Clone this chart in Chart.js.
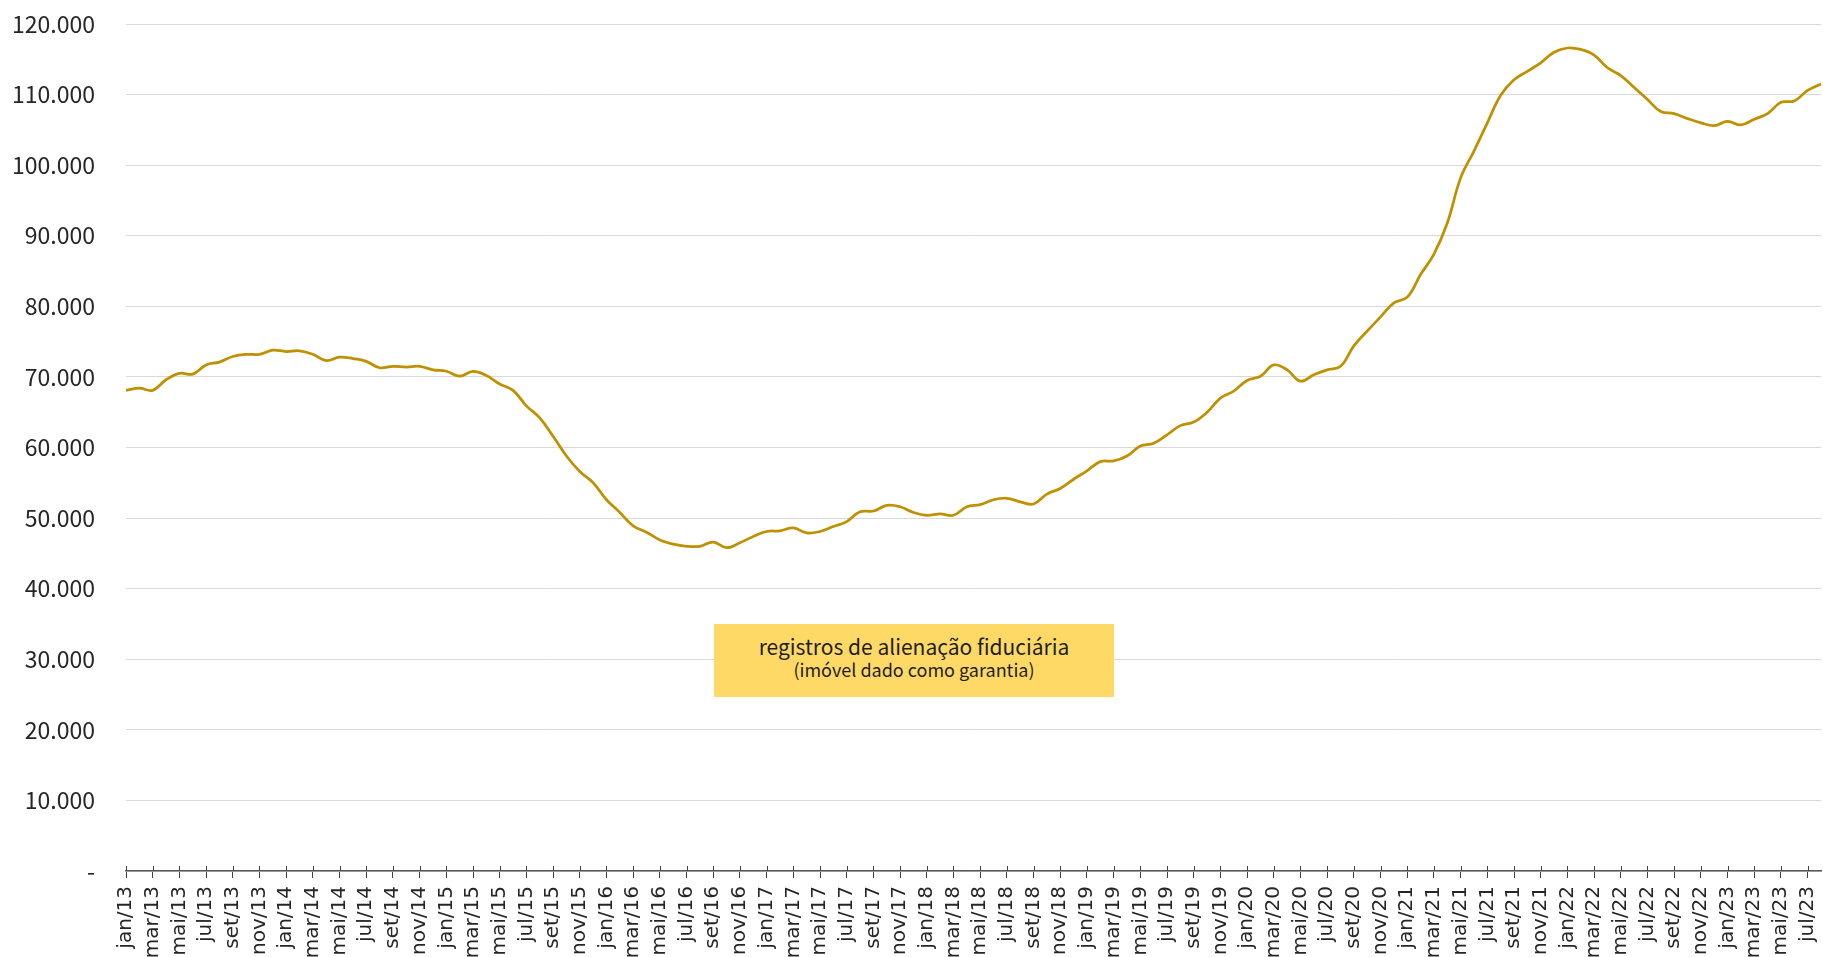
<!DOCTYPE html>
<html>
<head>
<meta charset="utf-8">
<script src="https://cdn.jsdelivr.net/npm/chart.js@4.4.0/dist/chart.umd.min.js"></script>
<style>
  body { margin: 0; background: #fff; }
  #wrap { position: relative; width: 1823px; height: 957px; }
  #note {
    position: absolute; left: 714px; top: 624px; width: 400px; height: 73px;
    background: #FFD966; color: #1f1f1f; text-align: center;
    font-family: "Noto Sans CJK JP", sans-serif; box-sizing: border-box; padding-top: 10px;
  }
  #note .l1 { font-size: 21px; line-height: 24px; }
  #note .l2 { font-size: 18px; line-height: 21px; margin-top: 1px; }
</style>
</head>
<body>
<div id="wrap">
  <canvas id="chart" width="1823" height="957"></canvas>
  <div id="note">
    <div class="l1">registros de alienação fiduciária</div>
    <div class="l2">(imóvel dado como garantia)</div>
  </div>
</div>
<script>
// monthly categories, jan/13 .. ago/23
const labels = [
  'jan/13','fev/13','mar/13','abr/13','mai/13','jun/13','jul/13','ago/13','set/13','out/13','nov/13','dez/13',
  'jan/14','fev/14','mar/14','abr/14','mai/14','jun/14','jul/14','ago/14','set/14','out/14','nov/14','dez/14',
  'jan/15','fev/15','mar/15','abr/15','mai/15','jun/15','jul/15','ago/15','set/15','out/15','nov/15','dez/15',
  'jan/16','fev/16','mar/16','abr/16','mai/16','jun/16','jul/16','ago/16','set/16','out/16','nov/16','dez/16',
  'jan/17','fev/17','mar/17','abr/17','mai/17','jun/17','jul/17','ago/17','set/17','out/17','nov/17','dez/17',
  'jan/18','fev/18','mar/18','abr/18','mai/18','jun/18','jul/18','ago/18','set/18','out/18','nov/18','dez/18',
  'jan/19','fev/19','mar/19','abr/19','mai/19','jun/19','jul/19','ago/19','set/19','out/19','nov/19','dez/19',
  'jan/20','fev/20','mar/20','abr/20','mai/20','jun/20','jul/20','ago/20','set/20','out/20','nov/20','dez/20',
  'jan/21','fev/21','mar/21','abr/21','mai/21','jun/21','jul/21','ago/21','set/21','out/21','nov/21','dez/21',
  'jan/22','fev/22','mar/22','abr/22','mai/22','jun/22','jul/22','ago/22','set/22','out/22','nov/22','dez/22',
  'jan/23','fev/23','mar/23','abr/23','mai/23','jun/23','jul/23','ago/23'
];

// registros de alienação fiduciária
const registros = [
  68100, 68400, 68100, 69600, 70500, 70400, 71700, 72100, 72900, 73200, 73200, 73800,
  73600, 73700, 73200, 72300, 72800, 72600, 72200, 71300, 71500, 71400, 71500, 71000,
  70800, 70100, 70800, 70200, 69000, 68100, 65900, 64200, 61600, 58800, 56600, 55000,
  52600, 50800, 48900, 48000, 46900, 46300, 46000, 46000, 46600, 45800, 46500, 47400,
  48100, 48200, 48600, 47900, 48100, 48800, 49500, 50900, 51000, 51800, 51600, 50800,
  50400, 50600, 50400, 51600, 51900, 52600, 52800, 52300, 52000, 53400, 54200, 55500,
  56700, 58000, 58100, 58800, 60200, 60600, 61800, 63100, 63600, 65000, 67000, 68000,
  69500, 70100, 71700, 71000, 69400, 70300, 71000, 71500, 74400, 76500, 78500, 80500,
  81300, 84500, 87400, 91800, 98200, 102000, 106000, 109900, 112100, 113300, 114500, 116000,
  116600, 116400, 115600, 113800, 112700, 111000, 109300, 107600, 107300, 106600, 106000, 105600,
  106200, 105700, 106500, 107300, 108900, 109100, 110600, 111500
];

const yTicks = [0, 10000, 20000, 30000, 40000, 50000, 60000, 70000, 80000, 90000, 100000, 110000, 120000];

function fmt(v) {
  if (v === 0) return '-';
  return String(v).replace(/\B(?=(\d{3})+(?!\d))/g, '.');
}

// little cross ticks: part above the axis line
const crossTicks = {
  id: 'crossTicks',
  afterDraw(chart) {
    const s = chart.scales.x;
    const ctx = chart.ctx;
    ctx.save();
    ctx.strokeStyle = '#404040';
    ctx.lineWidth = 1;
    s.ticks.forEach((t, i) => {
      if (t.label == null) return;
      const x = Math.round(s.getPixelForTick(i)) + 0.5;
      ctx.beginPath();
      ctx.moveTo(x, s.top - 5);
      ctx.lineTo(x, s.top);
      ctx.stroke();
    });
    ctx.restore();
  }
};

new Chart(document.getElementById('chart'), {
  type: 'line',
  data: {
    labels: labels,
    datasets: [{
      label: 'registros de alienação fiduciária',
      data: registros,
      borderColor: '#BF9000',
      borderWidth: 2.75,
      pointRadius: 0,
      tension: 0.4,
      fill: false
    }]
  },
  options: {
    responsive: false,
    devicePixelRatio: 1,
    animation: false,
    layout: { autoPadding: false, padding: { top: 24, right: 2, left: 0, bottom: 0 } },
    plugins: { legend: { display: false }, tooltip: { enabled: false } },
    scales: {
      x: {
        grid: { drawOnChartArea: false, drawTicks: true, tickLength: 7, tickColor: '#404040' },
        border: { display: true, color: '#595959', width: 1.5 },
        ticks: {
          autoSkip: false, minRotation: 90, maxRotation: 90, padding: 8,
          color: '#262626', font: { family: 'DejaVu Sans', size: 20 },
          callback: (v, i) => (i % 2 === 0 ? labels[i] : null)
        },
        afterFit: s => { s.height = 86; s.paddingLeft = 0; s.paddingRight = 0; }
      },
      y: {
        min: 0, max: 120000,
        afterBuildTicks: s => { s.ticks = yTicks.map(v => ({ value: v })); },
        grid: { color: '#D9D9D9', lineWidth: 1, drawTicks: false },
        border: { display: false },
        ticks: {
          padding: 31, color: '#262626',
          font: { family: 'Noto Sans CJK JP', size: 23 },
          callback: v => fmt(v)
        },
        afterFit: s => { s.width = 126; s.paddingTop = 0; s.paddingBottom = 0; }
      }
    }
  },
  plugins: [crossTicks]
});
</script>
</body>
</html>
